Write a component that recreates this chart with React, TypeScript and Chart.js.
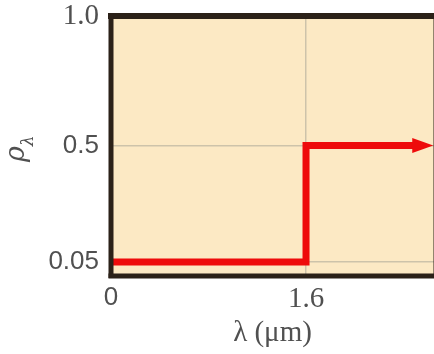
import React, { useEffect, useRef } from "react";
import { Chart, registerables } from "chart.js";

Chart.register(...registerables);

// Data
const stepX = [0, 1.6, 1.6, 2.48];
const stepY = [0.05, 0.05, 0.5, 0.5];
const xTickValues = [0, 1.6];
const xTickLabels = ["0", "1.6"];
const yTickValues = [0.05, 0.5, 1.0];
const yTickLabels = ["0.05", "0.5", "1.0"];
const xTitle = "λ (μm)";
const yTitleMain = "ρ";
const yTitleSub = "λ";

const BG = "#fce9c4";
const BORDER = "#2b2118";
const RED = "#ee0b0b";
const GRID = "#cdc3aa";
const TEXT = "#505050";

const SANS = "'Liberation Sans', Arial, sans-serif";
const SERIF = "'Liberation Serif', serif";

export default function App() {
  const ref = useRef<HTMLCanvasElement | null>(null);
  useEffect(() => {
    if (!ref.current) return;
    const bgPlugin = {
      id: "bgPlugin",
      beforeDraw(chart: any) {
        const { ctx, chartArea } = chart;
        ctx.save();
        ctx.fillStyle = BG;
        ctx.fillRect(chartArea.left, chartArea.top, chartArea.right - chartArea.left, chartArea.bottom - chartArea.top);
        ctx.restore();
      },
      afterDatasetsDraw(chart: any) {
        const { ctx, chartArea } = chart;
        const meta = chart.getDatasetMeta(0);
        const pts = meta.data;
        const last = pts[pts.length - 1];
        // arrowhead
        ctx.save();
        ctx.fillStyle = RED;
        ctx.beginPath();
        ctx.moveTo(last.x - 1, last.y - 7.5);
        ctx.lineTo(last.x + 20, last.y);
        ctx.lineTo(last.x - 1, last.y + 7.5);
        ctx.closePath();
        ctx.fill();
        ctx.restore();
        // frame (top, left, bottom)
        ctx.save();
        ctx.strokeStyle = BORDER;
        ctx.lineCap = "butt";
        ctx.lineWidth = 6;
        ctx.beginPath();
        ctx.moveTo(chartArea.left - 3, chartArea.top);
        ctx.lineTo(chartArea.right + 6, chartArea.top);
        ctx.stroke();
        ctx.lineWidth = 5;
        ctx.beginPath();
        ctx.moveTo(chartArea.left, chartArea.top - 3);
        ctx.lineTo(chartArea.left, chartArea.bottom + 3);
        ctx.stroke();
        ctx.beginPath();
        ctx.moveTo(chartArea.left - 2.5, chartArea.bottom + 1);
        ctx.lineTo(chartArea.right + 6, chartArea.bottom + 1);
        ctx.stroke();
        ctx.lineWidth = 3;
        ctx.beginPath();
        ctx.moveTo(chartArea.right + 1, chartArea.top);
        ctx.lineTo(chartArea.right + 1, chartArea.bottom);
        ctx.stroke();
        ctx.restore();
      },
      afterDraw(chart: any) {
        const { ctx } = chart;
        ctx.save();
        ctx.fillStyle = TEXT;
        ctx.translate(24, 162);
        ctx.rotate(-Math.PI / 2);
        ctx.textAlign = "left";
        ctx.textBaseline = "alphabetic";
        ctx.font = "italic 27px 'DejaVu Serif', serif";
        ctx.fillText(yTitleMain, 0, 0);
        const w = ctx.measureText(yTitleMain).width;
        ctx.font = "italic 17px 'DejaVu Serif', serif";
        ctx.fillText(yTitleSub, w, 9);
        ctx.restore();
      },
    };

    const chart = new Chart(ref.current, {
      type: "line",
      data: {
        datasets: [
          {
            data: stepX.map((x, i) => ({ x, y: stepY[i] })),
            borderColor: RED,
            borderWidth: 7,
            pointRadius: 0,
            borderJoinStyle: "miter",
            borderCapStyle: "butt",
            tension: 0,
            fill: false,
          },
        ],
      },
      options: {
        animation: false,
        responsive: false,
        events: [],
        layout: { padding: 0 },
        plugins: { legend: { display: false }, tooltip: { enabled: false } },
        scales: {
          x: {
            type: "linear",
            min: 0,
            max: 2.65,
            afterBuildTicks: (scale: any) => {
              scale.ticks = xTickValues.map((v) => ({ value: v }));
            },
            afterFit: (scale: any) => {
              scale.height = 79;
              scale.paddingLeft = 0;
              scale.paddingRight = 0;
            },
            ticks: {
              autoSkip: false,
              maxRotation: 0,
              padding: 7,
              color: TEXT,
              font: (c: any) =>
                c.index === 1 ? { family: SERIF, size: 29 } : { family: SANS, size: 26 },
              callback: (v: any) => xTickLabels[xTickValues.indexOf(v)] ?? "",
            },
            grid: { color: GRID, lineWidth: 1.5, drawTicks: false },
            border: { display: false },
            title: {
              display: true,
              text: xTitle,
              color: TEXT,
              font: { family: SERIF, size: 29 },
              padding: { top: 0, bottom: 3 },
            },
          },
          y: {
            type: "linear",
            min: 0,
            max: 1,
            afterBuildTicks: (scale: any) => {
              scale.ticks = yTickValues.map((v) => ({ value: v }));
            },
            afterFit: (scale: any) => {
              scale.width = 111;
              scale.paddingTop = 16;
              scale.paddingBottom = 0;
            },
            ticks: {
              autoSkip: false,
              padding: 12,
              color: TEXT,
              font: (c: any) =>
                c.index === 2 ? { family: SERIF, size: 29 } : { family: SANS, size: 26 },
              callback: (v: any) => yTickLabels[yTickValues.indexOf(v)] ?? "",
            },
            grid: { color: GRID, lineWidth: 1.5, drawTicks: false },
            border: { display: false },
          },
        },
      },
      plugins: [bgPlugin],
    } as any);
    return () => chart.destroy();
  }, []);

  return (
    <div style={{ position: "fixed", left: 0, top: 0, width: 434, height: 354, overflow: "hidden", background: "#fff" }}>
      <canvas ref={ref} width={434} height={354} />
    </div>
  );
}
